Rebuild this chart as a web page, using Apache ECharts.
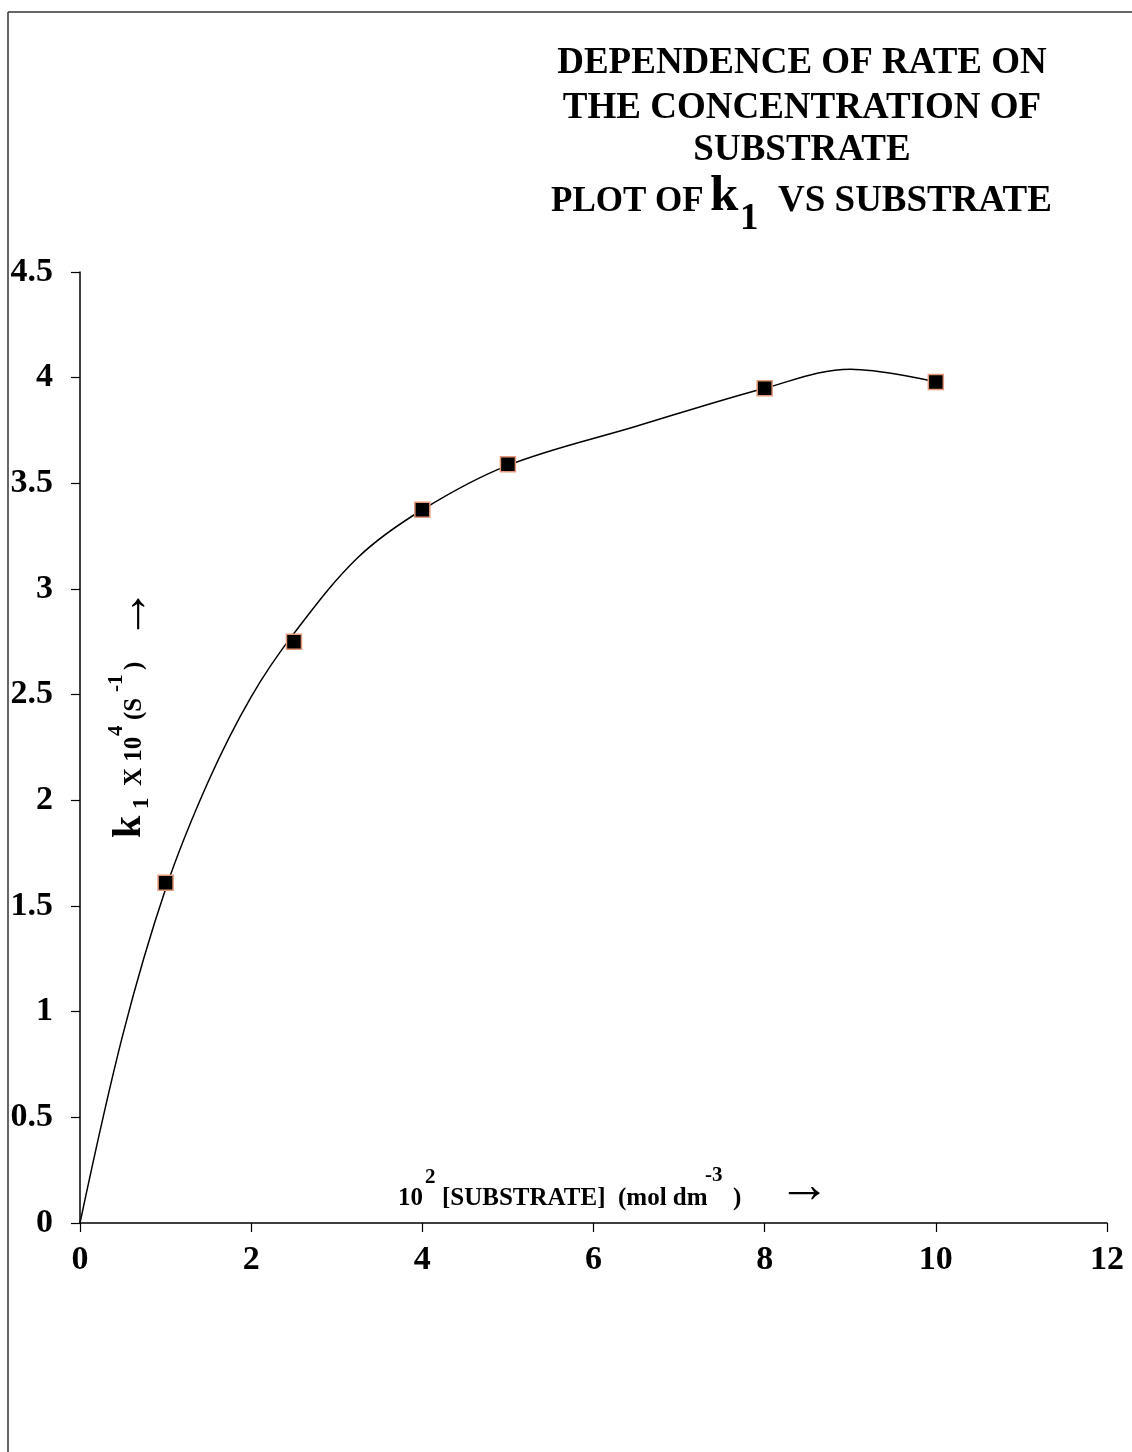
<!DOCTYPE html>
<html>
<head>
<meta charset="utf-8">
<script src="https://cdn.jsdelivr.net/npm/echarts@6/dist/echarts.min.js"></script>
<style>
  html, body { margin: 0; padding: 0; background: #fff; }
  #chart { width: 1132px; height: 1452px; }
</style>
</head>
<body>
<div id="chart"></div>
<script>
// measured points (10^2 [substrate], k1 x 10^4)
const substrate = [1, 2.5, 4, 5, 8, 10];
const k1 = [1.61, 2.75, 3.375, 3.59, 3.95, 3.98];

// smoothed trend curve
const curveX = [0, 0.5, 1, 1.5, 2, 2.5, 3.25, 4, 5, 6.5, 8, 9, 10];
const curveY = [0, 0.89, 1.58, 2.09, 2.49, 2.79, 3.15, 3.375, 3.585, 3.77, 3.95, 4.04, 3.98];

const titleLines = ['DEPENDENCE OF RATE ON', 'THE CONCENTRATION OF', 'SUBSTRATE'];

const FONT = '"Liberation Serif", "Times New Roman", serif';

// text placed by its baseline
function txt(x, baseline, text, size, align) {
    return {
        type: 'text',
        x: x,
        y: baseline - 0.34 * size,
        style: {
            text: text,
            fontFamily: FONT,
            fontWeight: 'bold',
            fontSize: size,
            fill: '#000',
            align: align || 'left',
            verticalAlign: 'middle'
        }
    };
}

function arrow(x, y, size) {
    return {
        type: 'text', x: x, y: y,
        style: { text: '\u2192', fontFamily: FONT, fontSize: size, fill: '#000', align: 'left', verticalAlign: 'middle' }
    };
}

const chart = echarts.init(document.getElementById('chart'));

const graphics = [
    // frame (left + top edges)
    { type: 'line', shape: { x1: 8, y1: 12, x2: 8, y2: 1452 }, style: { stroke: '#333', lineWidth: 1.5 } },
    { type: 'line', shape: { x1: 8, y1: 12, x2: 1132, y2: 12 }, style: { stroke: '#333', lineWidth: 1.5 } },
    // title
    txt(802, 76, titleLines[0], 37, 'center'),
    txt(802, 121, titleLines[1], 37, 'center'),
    txt(802, 163, titleLines[2], 37, 'center'),
    txt(551, 214, 'PLOT OF', 35),
    txt(710, 214, 'k', 51),
    txt(740, 232, '1', 37),
    txt(778, 214, 'VS SUBSTRATE', 37),
    // x axis name
    txt(398, 1207, '10', 25),
    txt(425, 1185, '2', 21),
    txt(442, 1207, '[SUBSTRATE]', 25),
    txt(618, 1207, '(mol dm', 25),
    txt(705, 1183, '-3', 21),
    txt(733, 1207, ')', 25),
    arrow(778, 1188, 52),
    // y axis name, rotated to read upward
    {
        type: 'group',
        x: 143,
        y: 838,
        rotation: Math.PI / 2,
        children: [
            txt(0, 0, 'k', 40),
            txt(29, 7, '1', 23),
            txt(52, 0, 'X 10', 25),
            txt(102, -19, '4', 21),
            txt(118, 0, '(S', 25),
            txt(146, -19, '-1', 21),
            txt(168, 0, ')', 25),
            arrow(198, -10, 52)
        ]
    }
];

const axisLabelStyle = {
    fontFamily: FONT,
    fontWeight: 'bold',
    fontSize: 34,
    color: '#000'
};

const option = {
    backgroundColor: '#fff',
    animation: false,
    grid: {
        left: 80,
        right: 25,
        top: 272,
        bottom: 229,
        containLabel: false,
        outerBoundsMode: 'none'
    },
    xAxis: {
        type: 'value',
        min: 0,
        max: 12,
        interval: 2,
        axisLine: { show: true, onZero: false, lineStyle: { color: '#000', width: 1.5 } },
        axisTick: { show: true, inside: false, length: 9, lineStyle: { color: '#000', width: 1.2 } },
        splitLine: { show: false },
        axisLabel: Object.assign({ margin: 20, hideOverlap: false }, axisLabelStyle)
    },
    yAxis: {
        type: 'value',
        min: 0,
        max: 4.5,
        interval: 0.5,
        axisLine: { show: true, onZero: false, lineStyle: { color: '#000', width: 1.5 } },
        axisTick: { show: true, inside: false, length: 9, lineStyle: { color: '#000', width: 1.2 } },
        splitLine: { show: false },
        axisLabel: Object.assign({ margin: 27, hideOverlap: false }, axisLabelStyle)
    },
    series: [
        {
            name: 'trend',
            type: 'line',
            data: curveX.map((x, i) => [x, curveY[i]]),
            smooth: 0.35,
            showSymbol: false,
            symbol: 'none',
            lineStyle: { color: '#000', width: 1.5 },
            z: 2
        },
        {
            name: 'k1',
            type: 'scatter',
            data: substrate.map((x, i) => [x, k1[i]]),
            symbol: 'rect',
            symbolSize: 15,
            itemStyle: { color: '#000', borderColor: '#e39a7c', borderWidth: 1.5, opacity: 1 },
            z: 3
        }
    ],
    graphic: graphics
};

chart.setOption(option);
window.addEventListener('resize', () => chart.resize());
</script>
</body>
</html>
